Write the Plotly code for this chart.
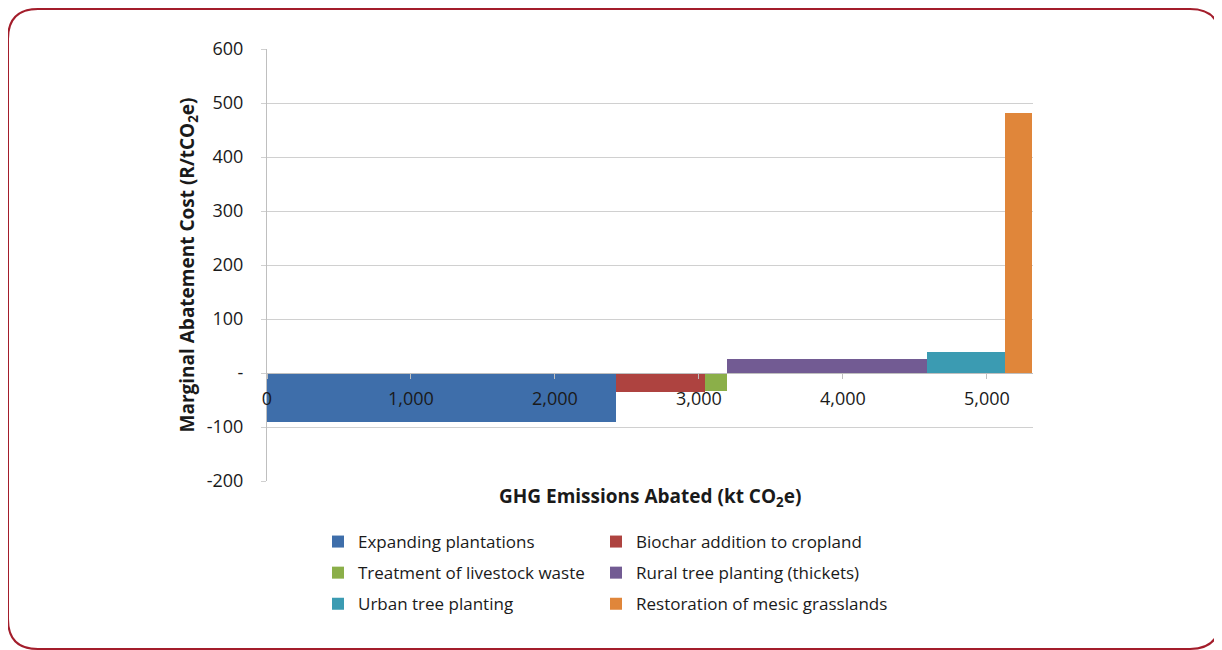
import numpy as np
import plotly.graph_objects as go

# ── data ────────────────────────────────────
options = [
    "Expanding plantations",
    "Biochar addition to cropland",
    "Treatment of livestock waste",
    "Rural tree planting (thickets)",
    "Urban tree planting",
    "Restoration of mesic grasslands",
]
abated_kt = [2421, 621, 150, 1393, 540, 188]      # bar widths (kt CO2e)
cost_r_per_t = [-90, -35, -33, 26, 38, 482]       # bar heights (R/tCO2e)
colors = ["#3E6EAA", "#AE4340", "#8BAF49", "#725B93", "#3B9BB2", "#E0863A"]

x_ticks = [0, 1000, 2000, 3000, 4000, 5000]
x_ticklabels = ["0", "1,000", "2,000", "3,000", "4,000", "5,000"]
y_ticks = [-200, -100, 0, 100, 200, 300, 400, 500, 600]
y_ticklabels = ["-200", "-100", "-", "100", "200", "300", "400", "500", "600"]

# ── layout geometry (px, page has an 8px body margin) ──
W, H = 1214, 642
L, R, T, B = 259, 189, 41, 169
FONT = "Open Sans, Liberation Sans, sans-serif"
TXT = "#1a1a1a"

right_edges = np.cumsum(abated_kt)
left_edges = right_edges - np.array(abated_kt)
mids = (left_edges + right_edges) / 2
# two legend columns, filled row by row like the original
legend_ids = ["legend", "legend2"] * 3

fig = go.Figure()
for name, m, w, c, col, lg in zip(options, mids, abated_kt, cost_r_per_t, colors, legend_ids):
    fig.add_trace(go.Bar(
        x=[m], y=[c], width=[w],
        name=name, legend=lg, legendgroup=name,
        marker=dict(color=col, line=dict(width=0)),
        hovertemplate=f"<b>{name}</b><br>%{{y}} R/tCO2e<extra></extra>",
    ))


def px2paper(px, py):
    return (px - L) / (W - L - R), (H - B - py) / (H - T - B)


# rounded frame round the whole picture
x0, y0, x1, y1, r = 0, 1, 1212, 641, 30
pts = {
    "a": px2paper(x0 + r, y0), "b": px2paper(x1 - r, y0),
    "c": px2paper(x1, y0), "d": px2paper(x1, y0 + r),
    "e": px2paper(x1, y1 - r), "f": px2paper(x1, y1),
    "g": px2paper(x1 - r, y1), "h": px2paper(x0 + r, y1),
    "i": px2paper(x0, y1), "j": px2paper(x0, y1 - r),
    "k": px2paper(x0, y0 + r), "l": px2paper(x0, y0),
}
p = lambda k: f"{pts[k][0]:.5f},{pts[k][1]:.5f}"
frame = (f"M{p('a')} L{p('b')} Q{p('c')} {p('d')} L{p('e')} Q{p('f')} {p('g')} "
         f"L{p('h')} Q{p('i')} {p('j')} L{p('k')} Q{p('l')} {p('a')} Z")
fig.add_shape(type="path", path=frame, xref="paper", yref="paper",
              line=dict(color="#A31D2B", width=2), layer="below")

fig.add_annotation(
    text="<b>GHG Emissions Abated (kt CO<sub>2</sub>e)</b>",
    xref="paper", yref="paper", x=0.5, y=px2paper(0, 489)[1],
    xanchor="center", yanchor="middle",
    showarrow=False, font=dict(size=19, color=TXT, family=FONT),
)

legend_common = dict(
    orientation="v", xanchor="left", yanchor="top",
    y=px2paper(0, 516)[1], itemwidth=30, tracegroupgap=6,
    font=dict(size=17, color=TXT, family=FONT), traceorder="grouped",
)

fig.update_layout(
    width=W, height=H,
    margin=dict(l=L, r=R, t=T, b=B),
    paper_bgcolor="white", plot_bgcolor="white",
    font=dict(family=FONT, size=18, color=TXT),
    bargap=0,
    showlegend=True,
    legend=dict(**legend_common, x=px2paper(310, 0)[0]),
    legend2=dict(**legend_common, x=px2paper(588, 0)[0]),
    xaxis=dict(
        range=[0, 5320],
        tickvals=x_ticks, ticktext=x_ticklabels,
        anchor="free", position=(0 - y_ticks[0]) / (y_ticks[-1] - y_ticks[0]),
        showgrid=False, zeroline=False,
        showline=True, linecolor="#BFBFBF", linewidth=1,
        ticks="outside", ticklen=5, tickcolor="#BFBFBF",
        ticklabelstandoff=4,
    ),
    yaxis=dict(
        range=[-200, 600],
        tickvals=y_ticks, ticktext=y_ticklabels,
        showgrid=True, gridcolor="#D0D0D0", gridwidth=1,
        zeroline=False,
        showline=True, linecolor="#BFBFBF", linewidth=1,
        ticks="outside", ticklen=5, tickcolor="#D0D0D0",
        ticklabelstandoff=14,
        title=dict(text="<b>Marginal Abatement Cost (R/tCO<sub>2</sub>e)</b>",
                   font=dict(size=19, color=TXT), standoff=7),
    ),
)

fig.write_html("out.html")
